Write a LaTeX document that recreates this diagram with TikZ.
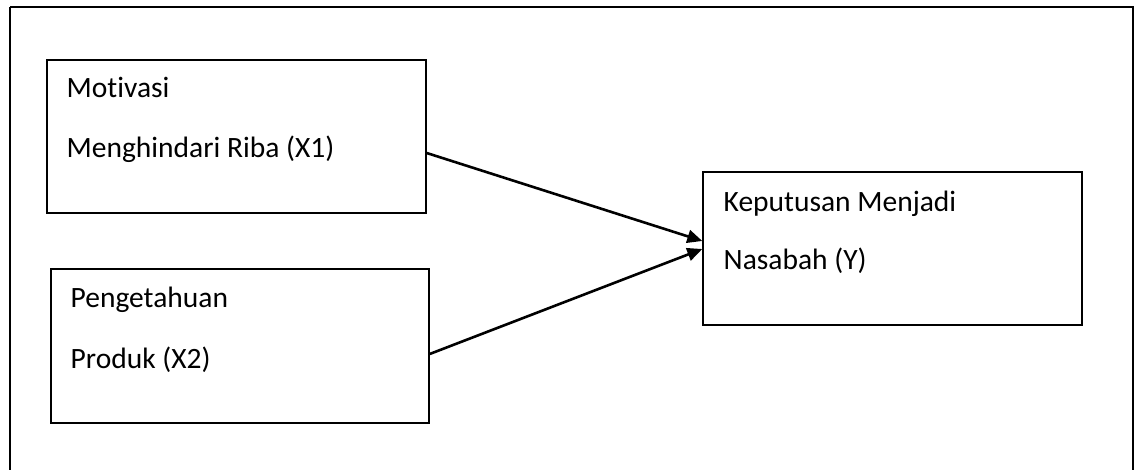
\documentclass[tikz,border=0pt]{standalone}
\usepackage{fontspec}
\setmainfont{Carlito}[Ligatures=NoCommon]
\usetikzlibrary{arrows.meta}
\begin{document}
\begin{tikzpicture}[x=1pt,y=-1pt,
  box/.style={draw=black,line width=1.4pt,rectangle,inner sep=0pt,minimum width=#1,minimum height=153pt},
  lbl/.style={anchor=base west,inner sep=0pt,font=\fontsize{29.5}{35}\selectfont},
  link/.style={line width=2.6pt,-{Triangle[length=15pt,width=13pt]}}]
\useasboundingbox (0,0) rectangle (1138,470);
\draw[line width=2.8pt] (10,7) -- (1133,7) -- (1133,475) (10,7) -- (10,475);
\node[box=379pt] (b1) at (236.5,136.5) {};
\node[box=378pt,minimum height=154pt] (b2) at (240,346) {};
\node[box=379pt] (b3) at (892.5,248.5) {};
\node[lbl] (t1) at (66.5,98) {Motivasi};
\node[lbl] (t2) at (66.5,158) {Menghindari Riba (X1)};
\node[lbl] (t3) at (70.5,308) {Pengetahuan};
\node[lbl] (t4) at (70.5,368) {Produk (X2)};
\node[lbl] (t5) at (723.5,212) {Keputusan Menjadi};
\node[lbl] (t6) at (723.5,270) {Nasabah (Y)};
\draw[link] ([yshift=-16.5pt]b1.east) -- ([yshift=7.5pt]b3.west);
\draw[link] ([yshift=-8pt]b2.east) -- ([yshift=-0.5pt]b3.west);
\end{tikzpicture}
\end{document}
